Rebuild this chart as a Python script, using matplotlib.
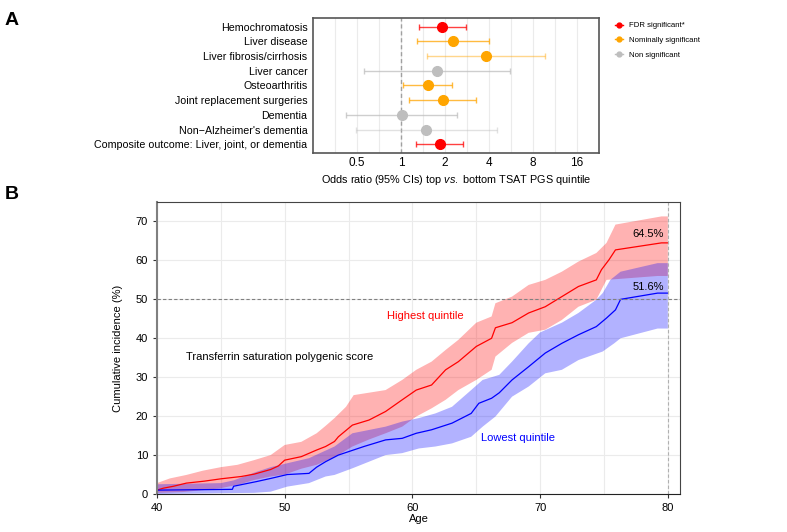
import numpy as np
import matplotlib
matplotlib.use("Agg")
import matplotlib.pyplot as plt
from matplotlib.lines import Line2D

plt.rcParams['font.family'] = ['Liberation Sans', 'DejaVu Sans']
plt.rcParams['mathtext.fontset'] = 'custom'
plt.rcParams['mathtext.rm'] = 'Liberation Sans'
plt.rcParams['mathtext.it'] = 'Liberation Sans:italic'

# ---- panel A data ----
outcomes = ["Hemochromatosis", "Liver disease", "Liver fibrosis/cirrhosis", "Liver cancer",
            "Osteoarthritis", "Joint replacement surgeries", "Dementia",
            "Non\u2212Alzheimer's dementia", "Composite outcome: Liver, joint, or dementia"]
odds = [1.90, 2.27, 3.84, 1.77, 1.52, 1.93, 1.01, 1.48, 1.84]
ci_lo = [1.32, 1.28, 1.50, 0.56, 1.04, 1.14, 0.42, 0.49, 1.26]
ci_hi = [2.79, 4.00, 9.70, 5.57, 2.24, 3.26, 2.42, 4.54, 2.66]
signif = ["fdr", "nom", "nom", "non", "nom", "nom", "non", "non", "fdr"]
ci_alpha = [0.75, 0.75, 0.45, 0.75, 0.75, 0.75, 0.75, 0.45, 0.75]

# ---- panel B data (cumulative incidence curves) ----
hi_age = [40, 40.5, 41.3, 42.3, 43.7, 45, 46.6, 47.6, 48.9, 49.5, 50, 51.3, 52.5, 53.2, 53.9,
          54.2, 55.3, 56.6, 57.9, 59.2, 60.3, 61.5, 62.6, 63.6, 65, 66.2, 66.5, 67.8, 69.1,
          70.4, 71.7, 73, 74.4, 74.8, 75.4, 75.9, 79.5, 80]
hi_val = [1.0, 1.5, 2.0, 2.8, 3.3, 3.9, 4.5, 5.1, 6.3, 7.2, 8.7, 9.6, 11.3, 12.2, 13.5,
          14.7, 17.7, 19.0, 21.2, 24.2, 26.7, 28.0, 31.9, 34.0, 37.9, 40.0, 42.7, 44.0, 46.5,
          48.1, 50.7, 53.3, 55.0, 57.6, 60.2, 62.7, 64.5, 64.5]
hi_up_age = [40, 41, 42.3, 43.6, 45, 46.3, 47.6, 48.9, 50, 51.3, 52.5, 53.2, 53.9, 54.8, 55.4,
             57.9, 59.2, 60.3, 61.5, 62.6, 63.6, 65, 66.2, 66.5, 67.8, 69.1, 70.4, 71.7, 73,
             74.4, 75.2, 75.9, 79.5, 80]
hi_up_val = [2.8, 4.0, 4.9, 6.0, 6.9, 7.5, 8.7, 10.0, 12.6, 13.4, 15.6, 17.5, 19.5, 22.4, 25.4,
             26.7, 29.3, 31.9, 34.0, 37.0, 39.6, 44.0, 45.6, 49.0, 50.7, 53.7, 55.0, 57.1, 59.7,
             61.9, 64.5, 69.2, 71.3, 71.3]
hi_lo_age = [40, 42, 43.6, 45, 46.5, 47.6, 48.9, 50, 51.3, 52.5, 53.2, 54.2, 55.3, 56.6, 57.9,
             59.2, 60.3, 61.5, 62.6, 63.6, 65, 66.2, 66.5, 67.8, 69.1, 70.4, 71.7, 73, 74.4,
             75.2, 79.2, 80]
hi_lo_val = [0.3, 0.5, 1.0, 1.5, 2.5, 3.6, 4.5, 5.0, 6.5, 7.5, 8.5, 10.0, 12.2, 14.0, 15.6,
             17.3, 19.9, 22.0, 24.2, 26.7, 29.3, 31.9, 35.3, 38.8, 41.4, 42.2, 44.7, 48.1, 49.9,
             55.0, 56.0, 56.0]

lo_age = [40, 45.9, 46, 47.8, 48.9, 50.2, 51.9, 52.5, 53.2, 54.2, 56.2, 57.9, 59.2, 60.3, 61.5,
          63.1, 64.6, 65.2, 66.2, 66.8, 67.8, 69.1, 70.4, 71.7, 73, 74.4, 75.2, 75.9, 76.3,
          79.2, 80]
lo_val = [1.0, 1.2, 2.0, 3.2, 4.0, 5.0, 5.3, 6.9, 8.3, 10.0, 12.2, 13.9, 14.3, 15.6, 16.5,
          18.2, 20.7, 23.3, 24.6, 26.0, 29.3, 32.7, 36.2, 38.7, 40.9, 43.0, 45.2, 47.3, 50.0,
          51.6, 51.6]
lo_up_age = [40, 45, 46, 47.8, 48.9, 50.2, 51.9, 53.9, 55.3, 57.9, 59.2, 60.5, 61.8, 63.1, 64.6,
             65.5, 66.8, 67.8, 69.1, 70, 71.7, 73, 74.4, 74.9, 75.5, 76.3, 79.2, 80]
lo_up_val = [2.5, 2.8, 3.5, 5.7, 6.9, 7.9, 9.2, 12.2, 15.6, 17.3, 18.6, 19.5, 20.7, 22.4, 26.7,
             29.3, 30.6, 34.0, 38.7, 41.5, 44.0, 46.5, 49.9, 51.6, 55.0, 57.1, 59.3, 59.3]
lo_lo_age = [40, 47.6, 48.9, 50.2, 51.9, 53.2, 53.9, 55.3, 57.9, 59.2, 60.5, 61.8, 63.1, 64.6,
             65.5, 66.5, 67.8, 69.1, 70.4, 71.7, 73, 74.9, 75.8, 76.3, 79.2, 80]
lo_lo_val = [0.0, 0.3, 0.6, 1.9, 2.8, 4.5, 4.9, 6.6, 10.0, 10.5, 11.7, 12.2, 13.0, 14.7,
             17.3, 19.9, 25.0, 27.6, 31.0, 31.9, 34.4, 36.6, 38.7, 40.0, 42.5, 42.5]

colors = {"fdr": "#FF0000", "nom": "#FFA500", "non": "#BEBEBE"}

fig = plt.figure(figsize=(7.87, 5.32), dpi=100)

# ================= Panel A =================
axA = fig.add_axes([0.3977, 0.7124, 0.3634, 0.2538])
ypos = np.arange(len(outcomes))
for i in range(len(outcomes)):
    c = colors[signif[i]]
    axA.errorbar(odds[i], ypos[i], xerr=[[odds[i] - ci_lo[i]], [ci_hi[i] - odds[i]]],
                 fmt='none', ecolor=c, alpha=ci_alpha[i], elinewidth=1.0,
                 capsize=2, capthick=1.0, zorder=3)
    axA.plot(odds[i], ypos[i], 'o', color=c, markersize=7, zorder=4)

axA.set_xscale('log', base=2)
axA.set_xlim(0.25, 19.5)
axA.set_ylim(len(outcomes) - 0.4, -0.6)
axA.set_xticks([0.5, 1, 2, 4, 8, 16])
axA.set_xticklabels(["0.5", "1", "2", "4", "8", "16"])
axA.set_xticks([2 ** (k + 0.5) for k in range(-2, 5)], minor=True)
axA.xaxis.set_minor_formatter(plt.NullFormatter())
axA.set_yticks(ypos)
axA.set_yticklabels(outcomes, fontsize=7.7)
axA.tick_params(axis='y', length=0, pad=4)
axA.tick_params(axis='x', which='both', length=0, labelsize=8.5, pad=3)
axA.grid(True, axis='x', which='both', color='#EBEBEB', linewidth=0.8, zorder=0)
axA.set_axisbelow(True)
axA.axvline(1, color='#A0A0A0', linestyle=(0, (3, 2)), linewidth=1.0, zorder=1)
for s in axA.spines.values():
    s.set_color('#555555')
    s.set_linewidth(1.2)
axA.set_xlabel("Odds ratio (95% CIs) top $\\it{vs.}$ bottom TSAT PGS quintile", fontsize=7.8, labelpad=3)

handles = [Line2D([0], [0], color=colors[k], marker='o', markersize=3.5, linewidth=1.0)
           for k in ["fdr", "nom", "non"]]
fig.legend(handles, ["FDR significant*", "Nominally significant", "Non significant"],
           loc='upper left', bbox_to_anchor=(0.772, 0.972), frameon=False, fontsize=5.6,
           handlelength=1.1, handletextpad=0.7, labelspacing=0.95)

fig.text(0.006, 0.978, "A", fontsize=14, fontweight='bold', va='top')
fig.text(0.006, 0.650, "B", fontsize=14, fontweight='bold', va='top')

# ================= Panel B =================
axB = fig.add_axes([0.1995, 0.0714, 0.6645, 0.5489])
axB.fill(np.concatenate([hi_up_age, hi_lo_age[::-1]]), np.concatenate([hi_up_val, hi_lo_val[::-1]]),
         color='#FF0000', alpha=0.3, linewidth=0)
axB.fill(np.concatenate([lo_up_age, lo_lo_age[::-1]]), np.concatenate([lo_up_val, lo_lo_val[::-1]]),
         color='#0000FF', alpha=0.3, linewidth=0)
axB.plot(hi_age, hi_val, color='#FF0000', linewidth=0.9)
axB.plot(lo_age, lo_val, color='#0000FF', linewidth=0.9)

axB.axhline(50, color='#808080', linestyle=(0, (3, 2)), linewidth=0.8)
axB.axvline(80, color='#B0B0B0', linestyle=(0, (3, 2)), linewidth=0.8)

axB.set_xlim(40, 80.95)
axB.set_ylim(0, 75)
axB.set_xticks([40, 50, 60, 70, 80])
axB.set_xticks([45, 55, 65, 75], minor=True)
axB.set_yticks(np.arange(0, 71, 10))
axB.grid(True, which='both', color='#EBEBEB', linewidth=0.8)
axB.set_axisbelow(True)
axB.tick_params(axis='both', which='major', labelsize=8, length=3, color='#333333')
axB.tick_params(axis='x', which='minor', length=0)
axB.spines['left'].set_color('#808080')
axB.spines['left'].set_linewidth(1.5)
axB.spines['bottom'].set_color('#222222')
axB.spines['top'].set_color('#444444')
axB.spines['right'].set_color('#444444')
axB.set_xlabel("Age", fontsize=8, labelpad=1)
axB.set_ylabel("Cumulative incidence (%)", fontsize=8, labelpad=9)

axB.text(61.0, 45.7, "Highest quintile", color='#FF0000', fontsize=8, ha='center', va='center')
axB.text(68.3, 14.4, "Lowest quintile", color='#0000FF', fontsize=8, ha='center', va='center')
axB.text(42.3, 35.2, "Transferrin saturation polygenic score", color='black', fontsize=8,
         ha='left', va='center')
axB.text(79.7, hi_val[-1] + 2.3, "64.5%", fontsize=8, ha='right', va='center')
axB.text(79.7, lo_val[-1] + 1.6, "51.6%", fontsize=8, ha='right', va='center')

fig.savefig("out.png", dpi=100)
